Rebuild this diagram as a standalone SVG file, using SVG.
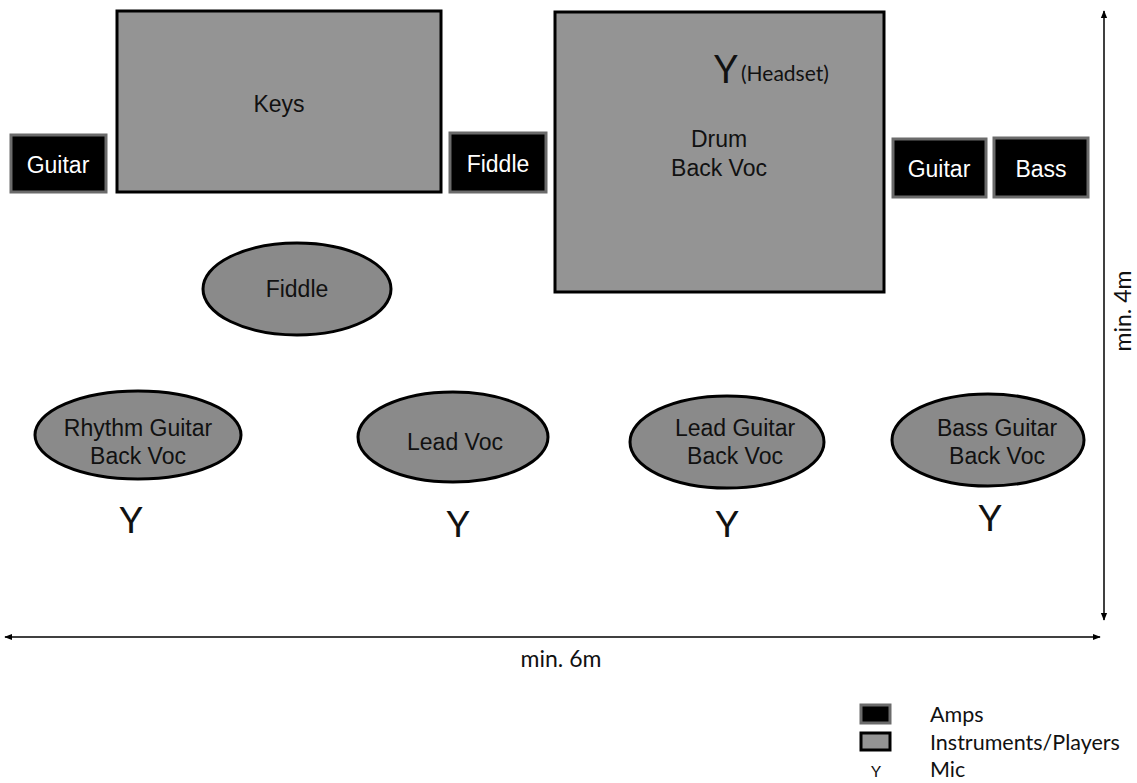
<svg xmlns="http://www.w3.org/2000/svg" width="1137" height="783" viewBox="0 0 1137 783">
<style>
.amp{fill:#000;stroke:#6b6b6b;stroke-width:3}
.inst{fill:#949494;stroke:#000;stroke-width:3}
.pl{fill:#8a8a8a;stroke:#000;stroke-width:3}
.t{font-family:"Liberation Sans",Arial,sans-serif;font-size:23px;fill:#111;text-anchor:middle}
.w{fill:#fff}
.c{font-family:Lato,"Liberation Sans",sans-serif;fill:#111}
.mic{font-size:37px;text-anchor:middle}
.line{stroke:#000;stroke-width:1.5;fill:none}
</style>
<defs>
<marker id="ah" viewBox="0 0 10 10" refX="9" refY="5" markerWidth="8" markerHeight="8" orient="auto-start-reverse" markerUnits="userSpaceOnUse">
<path d="M0,1 L10,5 L0,9 z" fill="#000"/>
</marker>
</defs>
<rect width="1137" height="783" fill="#fff"/>
<g id="keys"><rect class="inst" x="117" y="11" width="324" height="181"/><text class="t" x="279" y="112">Keys</text></g>
<g id="amp-guitar-left"><rect class="amp" x="11" y="135" width="95" height="57"/><text class="t w" x="58" y="173">Guitar</text></g>
<g id="amp-fiddle"><rect class="amp" x="450" y="133" width="96" height="59"/><text class="t w" x="498" y="172">Fiddle</text></g>
<g id="drum"><rect class="inst" x="555" y="12" width="329" height="280"/>
<text class="t" x="719" y="147">Drum</text><text class="t" x="719" y="176">Back Voc</text>
<text class="c" x="714" y="83" font-size="38">Y</text><text class="c" x="741" y="81" font-size="21">(Headset)</text></g>
<g id="amp-guitar-right"><rect class="amp" x="893" y="139" width="93" height="58"/><text class="t w" x="939" y="177">Guitar</text></g>
<g id="amp-bass"><rect class="amp" x="994" y="138" width="94" height="59"/><text class="t w" x="1041" y="177">Bass</text></g>
<g id="fiddle"><ellipse class="pl" cx="297" cy="289" rx="94" ry="46"/><text class="t" x="297" y="297">Fiddle</text></g>
<g id="rhythm"><ellipse class="pl" cx="138" cy="435" rx="103" ry="44"/><text class="t" x="138" y="436">Rhythm Guitar</text><text class="t" x="138" y="464">Back Voc</text></g>
<g id="leadvoc"><ellipse class="pl" cx="453" cy="437" rx="95" ry="45"/><text class="t" x="455" y="450">Lead Voc</text></g>
<g id="leadguitar"><ellipse class="pl" cx="727" cy="442" rx="97" ry="46"/><text class="t" x="735" y="436">Lead Guitar</text><text class="t" x="735" y="464">Back Voc</text></g>
<g id="bassguitar"><ellipse class="pl" cx="988" cy="440" rx="96" ry="46"/><text class="t" x="997" y="436">Bass Guitar</text><text class="t" x="997" y="464">Back Voc</text></g>
<g id="mics" class="c mic">
<text x="131" y="533">Y</text>
<text x="458" y="537">Y</text>
<text x="727" y="537">Y</text>
<text x="990" y="531">Y</text>
</g>
<g id="connectors">
<line class="line" x1="1104" y1="620" x2="1104" y2="11" marker-start="url(#ah)" marker-end="url(#ah)"/>
<line class="line" x1="5" y1="637" x2="1100" y2="637" marker-start="url(#ah)" marker-end="url(#ah)"/>
</g>
<text class="c" x="561" y="667" font-size="23" text-anchor="middle">min. 6m</text>
<text class="c" transform="translate(1131,311) rotate(-90)" font-size="23" text-anchor="middle">min. 4m</text>
<g id="legend">
<rect class="amp" x="861" y="705" width="29" height="18"/>
<rect class="inst" x="861" y="733" width="29" height="17"/>
<text class="c" x="876" y="777" font-size="16" text-anchor="middle">Y</text>
<text class="c" x="930" y="722" font-size="21.5">Amps</text>
<text class="c" x="930" y="750" font-size="21.5">Instruments/Players</text>
<text class="c" x="930" y="777" font-size="21.5">Mic</text>
</g>
</svg>
